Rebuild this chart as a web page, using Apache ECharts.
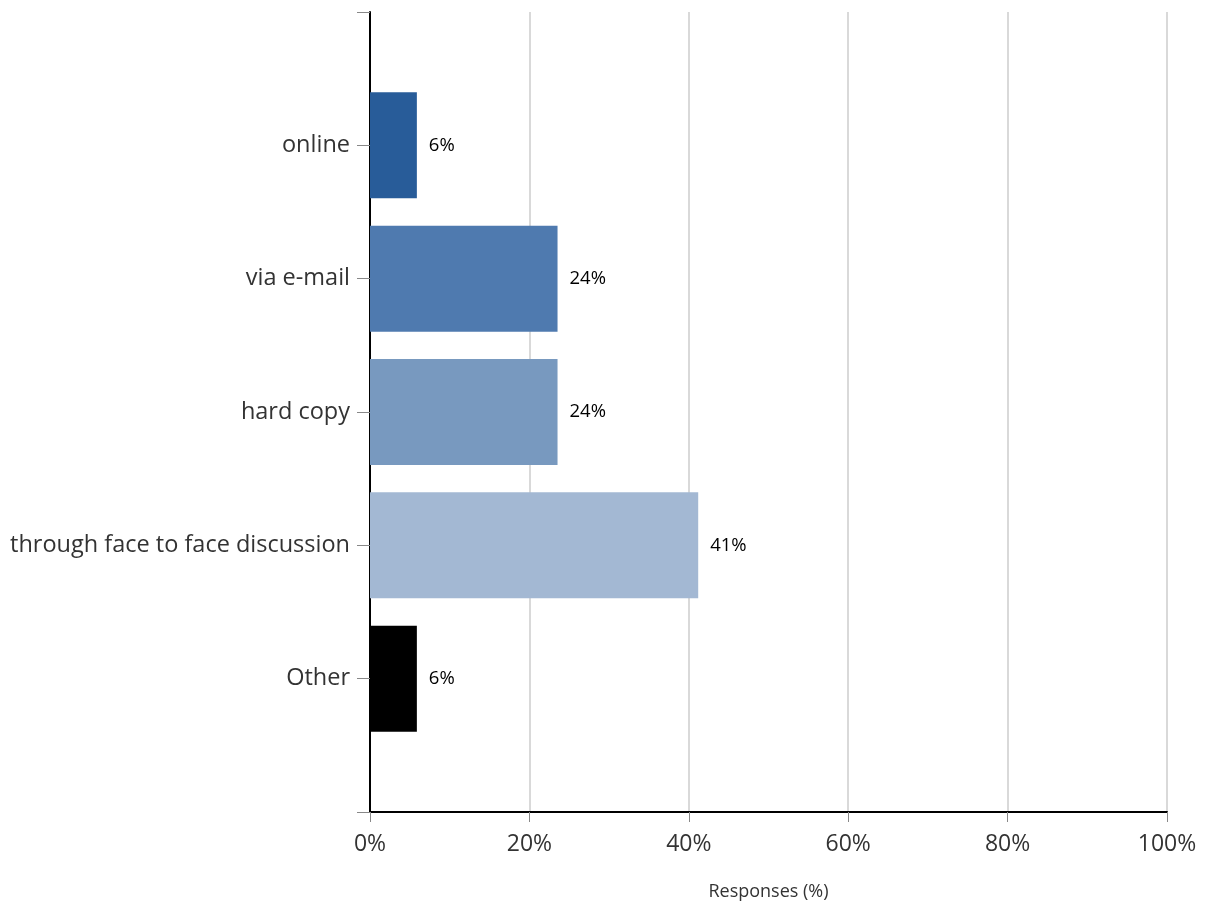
<!DOCTYPE html>
<html>
<head>
<meta charset="utf-8">
<script src="https://cdn.jsdelivr.net/npm/echarts@6/dist/echarts.min.js"></script>
<style>
html,body{margin:0;padding:0;background:#fff;}
#chart{width:1206px;height:907px;}
</style>
</head>
<body>
<div id="chart"></div>
<script>
var categories = ['online', 'via e-mail', 'hard copy', 'through face to face discussion', 'Other'];
var values = [5.88, 23.53, 23.53, 41.18, 5.88];
var barColors = ['#285C99', '#4F7AAF', '#7899BF', '#A3B8D3', '#000000'];
var xTicks = [0, 20, 40, 60, 80, 100];

var axisCats = [''].concat(categories).concat(['']);
var seriesData = [{value: null}].concat(values.map(function (v, i) {
  return {value: v, itemStyle: {color: barColors[i]}};
})).concat([{value: null}]);

var chart = echarts.init(document.getElementById('chart'), null, {renderer: 'canvas'});
chart.setOption({
  animation: false,
  backgroundColor: '#ffffff',
  textStyle: {fontFamily: 'Open Sans'},
  grid: {left: 370, right: 39, top: 12, bottom: 95, containLabel: false},
  xAxis: {
    type: 'value',
    min: xTicks[0],
    max: xTicks[xTicks.length - 1],
    interval: 20,
    name: 'Responses (%)',
    nameLocation: 'middle',
    nameGap: 71,
    nameTextStyle: {fontSize: 18, color: '#333'},
    axisLine: {show: true, lineStyle: {color: '#000', width: 2}},
    axisTick: {show: true, length: 10, lineStyle: {color: '#888', width: 1}},
    axisLabel: {formatter: '{value}%', fontSize: 23, color: '#333', margin: 21},
    splitLine: {show: true, lineStyle: {color: '#d9d9d9', width: 2}}
  },
  yAxis: {
    type: 'category',
    data: axisCats,
    inverse: true,
    boundaryGap: false,
    axisLine: {show: true, lineStyle: {color: '#000', width: 2}},
    axisTick: {show: true, length: 13, lineStyle: {color: '#888', width: 1}},
    axisLabel: {fontSize: 23.5, color: '#333', margin: 20},
    splitLine: {show: false}
  },
  series: [{
    type: 'bar',
    data: seriesData,
    barWidth: 106,
    label: {
      show: true,
      position: 'right',
      distance: 12,
      fontSize: 18.5,
      color: '#000',
      formatter: function (p) { return p.value == null ? '' : Math.round(p.value) + '%'; }
    }
  }]
});
</script>
</body>
</html>
